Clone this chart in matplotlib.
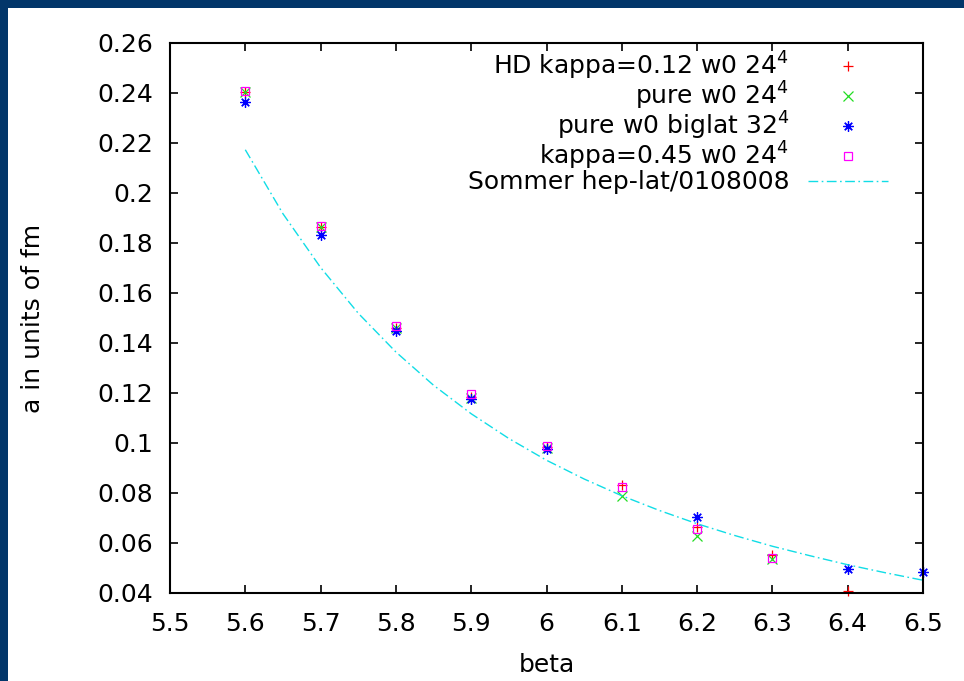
import matplotlib
matplotlib.use("Agg")
import matplotlib.pyplot as plt
from matplotlib.patches import Rectangle

# ---------------- data ----------------
beta_hd = [5.6, 5.7, 5.8, 5.9, 6.0, 6.1, 6.2, 6.3, 6.4]
a_hd = [0.2405, 0.1866, 0.1460, 0.1185, 0.0985, 0.0831, 0.0664, 0.0551, 0.0408]

beta_pure = [5.6, 5.7, 5.8, 5.9, 6.0, 6.1, 6.2, 6.3]
a_pure = [0.2405, 0.1866, 0.1460, 0.1180, 0.0980, 0.0789, 0.0627, 0.0537]

beta_big = [5.6, 5.7, 5.8, 5.9, 6.0, 6.2, 6.4, 6.5]
a_big = [0.2363, 0.1832, 0.1448, 0.1177, 0.0975, 0.0705, 0.0497, 0.0484]

beta_k45 = [5.6, 5.7, 5.8, 5.9, 6.0, 6.1, 6.2, 6.3]
a_k45 = [0.2407, 0.1870, 0.1468, 0.1196, 0.0989, 0.0824, 0.0657, 0.0541]

beta_sommer = [5.60, 5.65, 5.70, 5.75, 5.80, 5.85, 5.90, 5.95, 6.00, 6.05,
               6.10, 6.15, 6.20, 6.25, 6.30, 6.35, 6.40, 6.45, 6.50]
a_sommer = [0.2173, 0.1917, 0.1702, 0.1519, 0.1364, 0.1231, 0.1117, 0.1018,
            0.0931, 0.0856, 0.0789, 0.0730, 0.0677, 0.0630, 0.0587, 0.0549,
            0.0513, 0.0481, 0.0451]

labels = ["HD kappa=0.12 w0 24$^4$", "pure w0 24$^4$", "pure w0 biglat 32$^4$",
          "kappa=0.45 w0 24$^4$", "Sommer hep-lat/0108008"]
xticks = [5.5, 5.6, 5.7, 5.8, 5.9, 6.0, 6.1, 6.2, 6.3, 6.4, 6.5]
xticklabels = ["5.5", "5.6", "5.7", "5.8", "5.9", "6", "6.1", "6.2", "6.3", "6.4", "6.5"]
yticks = [0.04, 0.06, 0.08, 0.10, 0.12, 0.14, 0.16, 0.18, 0.20, 0.22, 0.24, 0.26]
yticklabels = ["0.04", "0.06", "0.08", "0.1", "0.12", "0.14", "0.16", "0.18",
               "0.2", "0.22", "0.24", "0.26"]

# ---------------- figure ----------------
plt.rcParams['font.family'] = ['DejaVu Sans']
plt.rcParams['font.size'] = 18

W, H = 964, 681
fig = plt.figure(figsize=(W / 100, H / 100), dpi=100, facecolor='white')
navy = '#02366a'
fig.add_artist(Rectangle((0, 1 - 8 / H), 1, 8 / H, transform=fig.transFigure,
                         facecolor=navy, edgecolor='none', zorder=0))
fig.add_artist(Rectangle((0, 0), 8 / W, 1, transform=fig.transFigure,
                         facecolor=navy, edgecolor='none', zorder=0))

ax = fig.add_axes([170 / W, 1 - 593 / H, (923 - 170) / W, (593 - 43) / H])

ms = 7
mew = 0.9
ax.plot(beta_hd, a_hd, linestyle='none', marker='+', color='#ff0000',
        markersize=ms, markeredgewidth=mew, clip_on=False, label=labels[0])
ax.plot(beta_pure, a_pure, linestyle='none', marker='x', color='#22dd22',
        markersize=ms - 0.5, markeredgewidth=mew, clip_on=False, label=labels[1])
ax.plot(beta_big, a_big, linestyle='none', marker=(8, 2, 0), color='#0000ff',
        markersize=ms + 0.5, markeredgewidth=mew, clip_on=False, label=labels[2])
ax.plot(beta_k45, a_k45, linestyle='none', marker='s', color='#ff00ff',
        markerfacecolor='none', markersize=ms - 1, markeredgewidth=mew,
        clip_on=False, label=labels[3])
ax.plot(beta_sommer, a_sommer, linestyle=(0, (7, 2.5, 1.2, 2.5)), color='#11dde6',
        linewidth=1.0, label=labels[4])

ax.set_xlim(5.5, 6.5)
ax.set_ylim(0.04, 0.26)
ax.set_xticks(xticks)
ax.set_xticklabels(xticklabels)
ax.set_yticks(yticks)
ax.set_yticklabels(yticklabels)
ax.tick_params(direction='in', length=6, width=1.2, top=True, right=True,
               labelsize=18)
ax.tick_params(axis='y', pad=12)
ax.tick_params(axis='x', pad=14)
for s in ax.spines.values():
    s.set_linewidth(1.5)

ax.set_xlabel('beta', fontsize=18, labelpad=12)
ax.set_ylabel('a in units of fm', fontsize=18, labelpad=38)

leg = ax.legend(loc='upper right', bbox_to_anchor=(1 - 35 / 753, 1 - 6.5 / 550),
                markerfirst=False, frameon=False, numpoints=1,
                handlelength=3.2, handletextpad=0.75, labelspacing=-0.08,
                borderaxespad=0, borderpad=0, fontsize=18)

fig.savefig('out.png', dpi=100, facecolor='white')
